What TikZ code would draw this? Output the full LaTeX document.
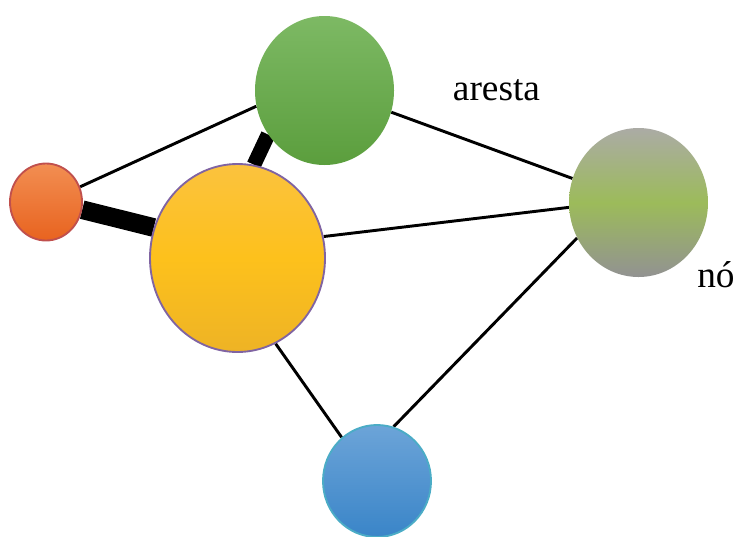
\documentclass[tikz,border=0pt]{standalone}
\usepackage{fontspec}
\setmainfont{Liberation Serif}
\usepackage{xcolor}
\usetikzlibrary{shapes.geometric, backgrounds}

\definecolor{orangetop}{HTML}{F28E52}
\definecolor{orangebot}{HTML}{E8631F}
\definecolor{orangeline}{HTML}{C0504D}
\definecolor{greentop}{HTML}{7DB964}
\definecolor{greenbot}{HTML}{5B9E3D}
\definecolor{yellowtop}{HTML}{FBC23E}
\definecolor{yellowmid}{HTML}{FDC11C}
\definecolor{yellowbot}{HTML}{EEB325}
\definecolor{purpleline}{HTML}{8064A2}
\definecolor{graytop}{HTML}{ABABA5}
\definecolor{graymid}{HTML}{9CBB5A}
\definecolor{graybot}{HTML}{929292}
\definecolor{bluetop}{HTML}{6CA4D8}
\definecolor{bluebot}{HTML}{3A85C8}
\definecolor{tealline}{HTML}{4BACC6}

\begin{document}
\begin{tikzpicture}[x=0.75pt, y=-0.75pt,
    vertex/.style={ellipse, inner sep=0pt},
    thin edge/.style={line width=2.2pt},
    thick edge/.style={line width=14pt},
    label/.style={font=\fontsize{28}{34}\selectfont, inner sep=0pt}]
  \useasboundingbox (0,0) rectangle (734,536);

  % Nodes
  \node[vertex, minimum width=54pt, minimum height=57.75pt, draw=orangeline, line width=1.4pt,
        top color=orangetop, bottom color=orangebot] (o) at (46,202) {};
  \node[vertex, minimum width=104.25pt, minimum height=111.75pt,
        top color=greentop, bottom color=greenbot] (g) at (324.5,90.5) {};
  \node[vertex, minimum width=131.25pt, minimum height=141pt, draw=purpleline, line width=1.4pt,
        top color=yellowtop, bottom color=yellowbot, middle color=yellowmid] (y) at (237.5,258) {};
  \node[vertex, minimum width=104.25pt, minimum height=111.75pt,
        top color=graytop, bottom color=graybot, middle color=graymid] (r) at (638.5,202.5) {};
  \node[vertex, minimum width=81pt, minimum height=84pt, draw=tealline, line width=1.4pt,
        top color=bluetop, bottom color=bluebot] (b) at (377,481) {};

  % Edges
  \begin{scope}[on background layer]
    \draw[thin edge] (o.24) -- (g.193);
    \draw[thick edge] (o.-12) -- (y.160);
    \draw[thick edge, line width=11pt] (g.218) -- (y.80);
    \draw[thin edge] (g.-18) -- (r.160);
    \draw[thin edge] (y.14) -- (r.184);
    \draw[thin edge] (y.-66) -- (b.129);
    \draw[thin edge] (r.210) -- (b.73);
  \end{scope}

  % Labels
  \node[label, anchor=base] (aresta) at (496.5,100) {aresta};
  \node[label, anchor=base west] (no) at (697,287) {nó};
\end{tikzpicture}
\end{document}
